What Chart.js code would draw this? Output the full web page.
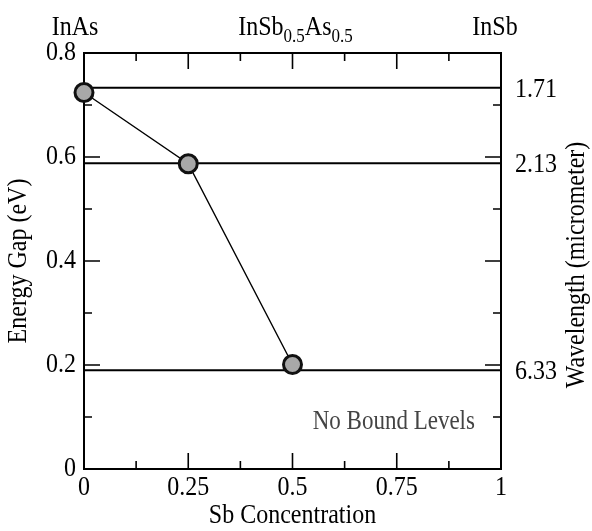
<!DOCTYPE html>
<html lang="en">
<head>
<meta charset="UTF-8">
<title>Energy Gap vs Sb Concentration</title>
<script src="https://cdn.jsdelivr.net/npm/chart.js"></script>
<style>
  body { margin: 0; background: #fff; }
  #wrap { width: 592px; height: 531px; }
</style>
</head>
<body>
<div id="wrap"><canvas id="c"></canvas></div>
<script>
// data
const sbConc = [0, 0.25, 0.5];
const energyGap = [0.724, 0.587, 0.201];
const levelGaps = [0.733, 0.588, 0.190];
const levelWavelengths = ['1.71', '2.13', '6.33'];
const xTicks = [0, 0.25, 0.5, 0.75, 1];
const xTickLabels = ['0', '0.25', '0.5', '0.75', '1'];
const yTicks = [0, 0.2, 0.4, 0.6, 0.8];
const yTickLabels = ['0', '0.2', '0.4', '0.6', '0.8'];
const xMajor = [0.25, 0.5, 0.75];
const xMinor = [0.125, 0.375, 0.625, 0.875];
const yMajor = [0.2, 0.4, 0.6];
const yMinor = [0.1, 0.3, 0.5, 0.7];
// top labels: pieces of [text, subscript?]
const compoundPos = [0, 0.5, 1];
const compoundNames = [
  [['InAs', false]],
  [['InSb', false], ['0.5', true], ['As', false], ['0.5', true]],
  [['InSb', false]]
];
const noteText = 'No Bound Levels';
const notePos = { x: 0.743, y: 0.09 };

const FONT = "'Liberation Serif', 'Times New Roman', serif";
const STRETCH = 1.15;   // the scanned figure's lettering is a bit taller than wide
Chart.defaults.font.family = FONT;
Chart.defaults.color = '#000';

function txt(ctx, s, x, y, size, align, base, rot) {
  ctx.save();
  ctx.translate(x, y);
  if (rot) ctx.rotate(rot);
  ctx.scale(1, STRETCH);
  ctx.font = size + 'px ' + FONT;
  ctx.textAlign = align;
  ctx.textBaseline = base;
  ctx.fillText(s, 0, 0);
  ctx.restore();
}

const lineSets = levelGaps.map(g => ({
  data: [{ x: 0, y: g }, { x: 1, y: g }],
  borderColor: '#000',
  borderWidth: 2,
  pointRadius: 0,
  showLine: true,
  order: 2
}));

const extras = {
  id: 'extras',
  afterDatasetsDraw(chart) {
    const { ctx, chartArea: a, scales } = chart;
    const x = scales.x, y = scales.y;
    ctx.save();
    ctx.strokeStyle = '#000';
    ctx.lineWidth = 1.6;
    ctx.beginPath();
    const tick = (vals, len) => {
      vals.forEach(v => {
        const px = x.getPixelForValue(v);
        ctx.moveTo(px, a.bottom); ctx.lineTo(px, a.bottom - len);
        ctx.moveTo(px, a.top); ctx.lineTo(px, a.top + len);
      });
    };
    const ytick = (vals, len) => {
      vals.forEach(v => {
        const py = y.getPixelForValue(v);
        ctx.moveTo(a.left, py); ctx.lineTo(a.left + len, py);
        ctx.moveTo(a.right, py); ctx.lineTo(a.right - len, py);
      });
    };
    tick(xMajor, 16); tick(xMinor, 8);
    ytick(yMajor, 16); ytick(yMinor, 8);
    ctx.stroke();

    ctx.fillStyle = '#000';
    // tick labels
    xTicks.forEach((v, i) => txt(ctx, xTickLabels[i], x.getPixelForValue(v), a.bottom + 19, 24, 'center', 'middle'));
    yTicks.forEach((v, i) => txt(ctx, yTickLabels[i], a.left - 8, y.getPixelForValue(v), 24, 'right', 'middle'));
    levelGaps.forEach((v, i) => txt(ctx, levelWavelengths[i], a.right + 14, y.getPixelForValue(v) + 2, 24, 'left', 'middle'));

    // axis titles
    const midX = (a.left + a.right) / 2, midY = (a.top + a.bottom) / 2;
    txt(ctx, 'Sb Concentration', midX, 516, 24, 'center', 'middle');
    txt(ctx, 'Energy Gap (eV)', 19, midY, 24, 'center', 'middle', -Math.PI / 2);
    txt(ctx, 'Wavelength (micrometer)', 577, midY + 4, 24, 'center', 'middle', -Math.PI / 2);

    // note
    ctx.fillStyle = '#444';
    txt(ctx, noteText, x.getPixelForValue(notePos.x), y.getPixelForValue(notePos.y), 23, 'center', 'middle');

    // compound labels on top
    ctx.fillStyle = '#000';
    const nudge = [-9, 3, -6];
    compoundNames.forEach((parts, i) => {
      let w = 0;
      parts.forEach(([t, sub]) => {
        ctx.font = (sub ? '17px ' : '24px ') + FONT;
        w += ctx.measureText(t).width;
      });
      let cx = x.getPixelForValue(compoundPos[i]) + nudge[i] - w / 2;
      parts.forEach(([t, sub]) => {
        txt(ctx, t, cx, sub ? 42 : 35, sub ? 17 : 24, 'left', 'alphabetic');
        ctx.font = (sub ? '17px ' : '24px ') + FONT;
        cx += ctx.measureText(t).width;
      });
    });
    ctx.restore();
  }
};

new Chart(document.getElementById('c'), {
  type: 'scatter',
  data: {
    datasets: [{
      data: sbConc.map((v, i) => ({ x: v, y: energyGap[i] })),
      showLine: true,
      borderColor: '#000',
      borderWidth: 1.4,
      pointRadius: 9,
      pointBorderWidth: 3,
      pointBackgroundColor: '#a8a8a8',
      pointBorderColor: '#111',
      clip: false,
      order: 1
    }, ...lineSets]
  },
  options: {
    responsive: true,
    maintainAspectRatio: false,
    animation: false,
    layout: { padding: 0 },
    plugins: { legend: { display: false }, tooltip: { enabled: false } },
    scales: {
      x: {
        type: 'linear', position: 'bottom', min: 0, max: 1,
        ticks: { display: false },
        grid: { display: false },
        border: { color: '#000', width: 2 },
        afterFit: s => { s.height = 62; }
      },
      x2: {
        type: 'linear', position: 'top', min: 0, max: 1,
        ticks: { display: false },
        grid: { display: false },
        border: { color: '#000', width: 2 },
        afterFit: s => { s.height = 53; }
      },
      y: {
        type: 'linear', position: 'left', min: 0, max: 0.8,
        ticks: { display: false },
        grid: { display: false },
        border: { color: '#000', width: 2 },
        afterFit: s => { s.width = 84; }
      },
      y2: {
        type: 'linear', position: 'right', min: 0, max: 0.8,
        ticks: { display: false },
        grid: { display: false },
        border: { color: '#000', width: 2 },
        afterFit: s => { s.width = 91; }
      }
    }
  },
  plugins: [extras]
});
</script>
</body>
</html>
